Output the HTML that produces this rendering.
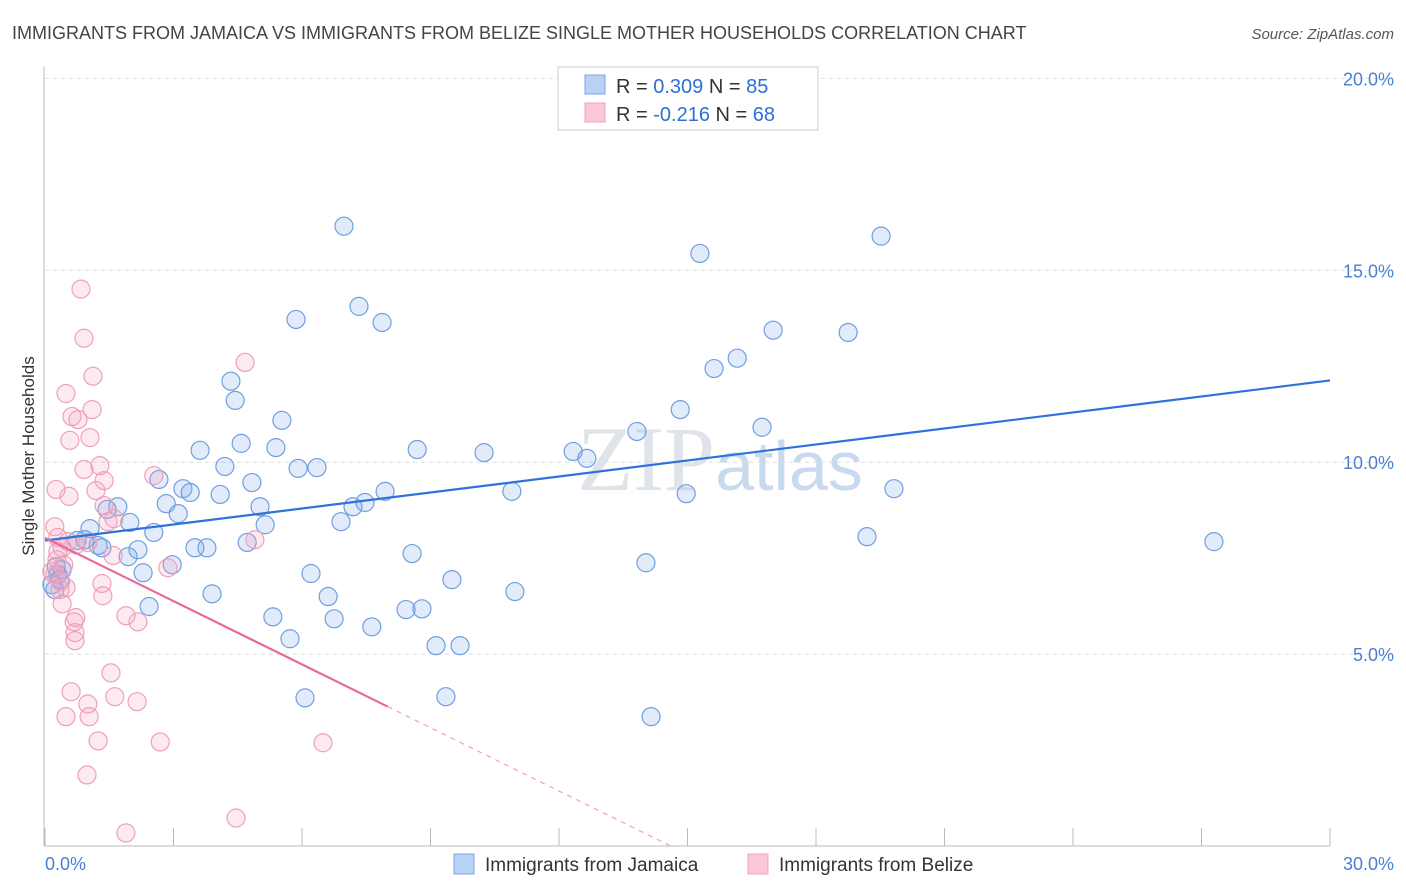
<!DOCTYPE html>
<html><head><meta charset="utf-8">
<style>
body{margin:0;background:#fff;font-family:"Liberation Sans",sans-serif;}
svg{display:block}
</style></head>
<body>
<svg id="chart" width="1406" height="892" xmlns="http://www.w3.org/2000/svg">
<text x="12" y="39" font-size="18" fill="#444">IMMIGRANTS FROM JAMAICA VS IMMIGRANTS FROM BELIZE SINGLE MOTHER HOUSEHOLDS CORRELATION CHART</text>
<text x="1394" y="39" font-size="15" fill="#555" text-anchor="end" font-style="italic">Source: ZipAtlas.com</text>
<text x="720" y="490" font-size="92" text-anchor="middle" fill="#dfe4ea" font-family="Liberation Serif,serif">ZIP<tspan fill="#c9daf0" font-family="Liberation Sans,sans-serif" font-size="70">atlas</tspan></text>
<g id="grid"></g>
<g id="axes"></g>
<g id="points"></g>
<g id="lines"></g>
<text transform="translate(34,456) rotate(-90)" font-size="17" fill="#333" text-anchor="middle">Single Mother Households</text>
<text x="45" y="870" font-size="18" fill="#4a7fd6">0.0%</text>
<text x="1394" y="870" font-size="18" fill="#4a7fd6" text-anchor="end">30.0%</text>
<g>
<rect x="558" y="67" width="260" height="63" fill="#fff" stroke="#ccc"/>
<rect x="585" y="75" width="20" height="19" fill="#b8d2f5" stroke="#7aa6e0"/>
<rect x="585" y="103" width="20" height="19" fill="#fac8d8" stroke="#eda3bc"/>
<text x="616" y="93" font-size="20" fill="#333">R = <tspan fill="#2d6fd6">0.309</tspan>   N = <tspan fill="#2d6fd6">85</tspan></text>
<text x="616" y="121" font-size="20" fill="#333">R = <tspan fill="#2d6fd6">-0.216</tspan>   N = <tspan fill="#2d6fd6">68</tspan></text>
</g>
<g>
<rect x="454" y="854" width="20" height="20" fill="#b8d2f5" stroke="#7aa6e0"/>
<text x="485" y="871" font-size="19" fill="#333">Immigrants from Jamaica</text>
<rect x="748" y="854" width="20" height="20" fill="#fac8d8" stroke="#eda3bc"/>
<text x="779" y="871" font-size="19" fill="#333">Immigrants from Belize</text>
</g>
</svg>
<script>
const yTicks=[5,10,15,20];
const yTickLabels=["5.0%","10.0%","15.0%","20.0%"];
const xTicks=[0,3,6,9,12,15,18,21,24,27,30];
const jamaicaX=[6.98,19.52,15.29,5.86,7.33,7.87,17.0,18.75,16.16,15.62,4.34,4.44,14.83,5.53,16.74,13.82,4.58,5.39,8.69,10.25,12.33,12.65,3.62,4.20,5.91,6.35,4.83,2.66,3.22,3.39,4.09,2.83,3.11,5.02,7.19,7.47,7.94,10.90,14.97,19.82,1.70,1.98,1.45,1.05,2.54,5.14,6.91,19.19,27.29,0.75,1.24,0.93,1.33,2.17,3.50,3.78,4.72,8.57,9.50,14.03,1.94,2.97,2.29,6.21,10.97,3.90,6.61,2.43,8.43,8.80,5.32,6.75,7.63,5.72,9.13,9.69,6.07,9.36,14.15,0.23,0.16,0.35,0.30,0.40,0.26];
const jamaicaY=[16.15,15.89,15.44,13.72,14.06,13.64,13.44,13.38,12.71,12.44,12.11,11.61,11.37,11.09,10.91,10.80,10.49,10.38,10.33,10.25,10.28,10.10,10.31,9.89,9.84,9.86,9.47,9.55,9.31,9.21,9.16,8.92,8.66,8.84,8.84,8.95,9.24,9.24,9.18,9.31,8.84,8.43,8.77,8.27,8.17,8.37,8.45,8.06,7.93,7.96,7.83,7.98,7.77,7.72,7.77,7.77,7.91,7.62,6.94,7.38,7.54,7.33,7.12,7.10,6.63,6.57,6.50,6.24,6.16,6.18,5.97,5.92,5.71,5.40,5.22,5.22,3.86,3.89,3.37,6.68,6.81,6.94,7.07,7.20,7.28];
const belizeX=[0.84,0.91,4.67,1.12,0.49,0.63,0.77,1.10,1.05,0.58,0.91,1.28,1.38,2.54,0.26,0.56,1.19,1.38,1.61,1.47,0.23,0.30,0.54,0.40,1.00,0.72,1.59,4.90,2.87,0.28,0.44,0.23,0.37,0.49,1.33,1.35,0.40,0.72,0.68,0.70,0.70,1.89,2.17,1.54,0.61,1.00,1.63,2.15,0.49,1.03,1.24,2.69,6.49,0.98,1.89,4.46,0.30,0.16,0.35];
const belizeY=[14.51,13.23,12.60,12.24,11.79,11.19,11.11,11.37,10.64,10.57,9.81,9.91,9.52,9.65,9.29,9.11,9.26,8.87,8.53,8.45,8.32,8.04,7.93,7.77,7.91,7.85,7.57,7.98,7.25,7.46,7.33,7.07,6.89,6.73,6.84,6.52,6.31,5.95,5.84,5.56,5.35,6.00,5.84,4.51,4.02,3.70,3.89,3.76,3.37,3.37,2.74,2.71,2.69,1.85,0.34,0.73,7.67,7.15,6.68];
const jamaicaTrend=[7.96,12.13];
const belizeTrend=[8.03,-0.216];
const NS="http://www.w3.org/2000/svg";
const X0=45,X1=1330,Y0=846,YT=79;
const sx=v=>X0+(v/30)*(X1-X0);
const sy=v=>Y0-(v/20)*(Y0-YT+0.6);
function mk(tag,attrs,parent){const e=document.createElementNS(NS,tag);for(const k in attrs)e.setAttribute(k,attrs[k]);parent.appendChild(e);return e;}
const grid=document.getElementById('grid'),axes=document.getElementById('axes'),pts=document.getElementById('points'),lines=document.getElementById('lines');
yTicks.forEach((t,i)=>{
 const l=mk('line',{x1:X0,x2:1394,y1:sy(t),y2:sy(t),stroke:'#ddd','stroke-dasharray':'4,4'},grid);
 
 
 const tx=mk('text',{x:1394,y:sy(t)+7,'font-size':18,fill:'#4a7fd6','text-anchor':'end'},grid);
 tx.textContent=yTickLabels[i];
 
 
});
const al=mk('line',{x1:44,x2:44,y1:67,y2:Y0,stroke:'#bbb'},axes);


const bl=mk('line',{x1:44,x2:X1,y1:Y0,y2:Y0,stroke:'#bbb'},axes);


xTicks.forEach(t=>{
 const l=mk('line',{x1:sx(t),x2:sx(t),y1:Y0-18,y2:Y0,stroke:'#bbb'},axes);
 
 
});
jamaicaX.forEach((x,i)=>{
 const c=mk('circle',{cx:sx(x),cy:sy(jamaicaY[i]),r:9,fill:'rgba(120,165,230,0.22)',stroke:'#6f9fe0','stroke-width':1.2},pts);
 
 
});
belizeX.forEach((x,i)=>{
 const c=mk('circle',{cx:sx(x),cy:sy(belizeY[i]),r:9,fill:'rgba(245,160,190,0.22)',stroke:'#eea0ba','stroke-width':1.2},pts);
 
 
});
const jl=mk('line',{x1:sx(0),y1:sy(jamaicaTrend[0]),x2:sx(30),y2:sy(jamaicaTrend[1]),stroke:'#2f72d8','stroke-width':2.2},lines);


const slope=(belizeTrend[1]-belizeTrend[0])/15;
const bsolid=mk('line',{x1:sx(0),y1:sy(belizeTrend[0]),x2:sx(8),y2:sy(belizeTrend[0]+slope*8),stroke:'#e8689a','stroke-width':2.2},lines);


const xe=-belizeTrend[0]/slope;
const bdash=mk('line',{x1:sx(8),y1:sy(belizeTrend[0]+slope*8),x2:sx(xe),y2:sy(0),stroke:'#eda3bc','stroke-width':1.2,'stroke-dasharray':'5,5'},lines);


</script>
</body></html>
